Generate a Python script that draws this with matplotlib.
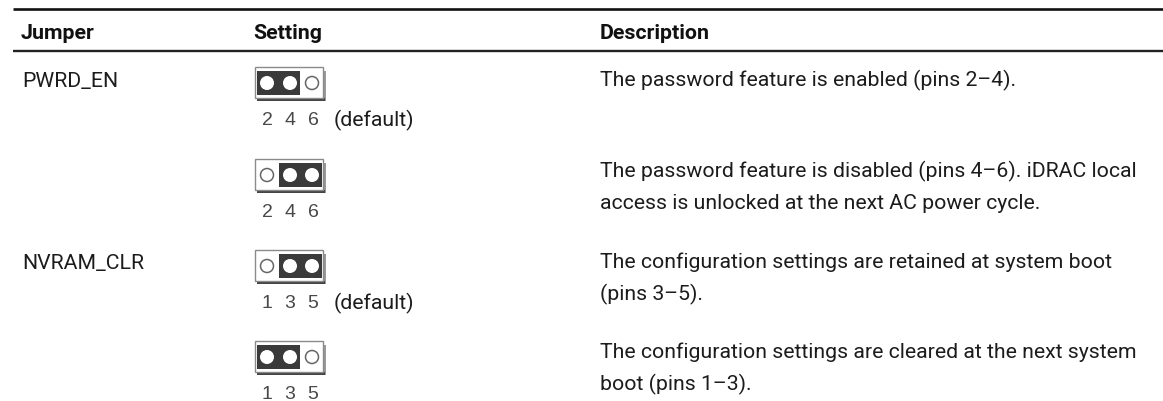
import matplotlib
matplotlib.use("Agg")
import matplotlib.pyplot as plt
from matplotlib.patches import Rectangle, Circle

## table content
headers = ["Jumper", "Setting", "Description"]
jumpers = ["PWRD_EN", "", "NVRAM_CLR", ""]
pin_labels = ["2 4 6", "2 4 6", "1 3 5", "1 3 5"]
defaults = ["(default)", "", "(default)", ""]
covered = [(0, 1), (1, 2), (1, 2), (0, 1)]  ## which pins the jumper sits on
descriptions = [
    "The password feature is enabled (pins 2\u20134).",
    "The password feature is disabled (pins 4\u20136). iDRAC local\naccess is unlocked at the next AC power cycle.",
    "The configuration settings are retained at system boot\n(pins 3\u20135).",
    "The configuration settings are cleared at the next system\nboot (pins 1\u20133).",
]

W, H = 1163, 402
box_top = [68, 160, 251, 342]
base_y = [86, 177, 268, 358]
line_gap = 32.5

fig = plt.figure(figsize=(W / 100, H / 100), dpi=100)
ax = fig.add_axes([0, 0, 1, 1])
ax.set_xlim(0, W)
ax.set_ylim(H, 0)
ax.axis("off")

font = "Roboto"
size = 15.3
ink = "#1c1c1c"
dark = "#3a3a3a"

def drawJumper(x, y, on):
    ## shadow, outline then the black cap and the three pins
    ax.add_patch(Rectangle((x + 2, y + 4), 69, 30, color="#9a9a9a", lw=0))
    ax.add_patch(Rectangle((x + 2, y + 31), 68, 3, color="#444444", lw=0))
    ax.add_patch(Rectangle((x, y), 68, 31, fc="white", ec="#8a8a8a", lw=1.0))
    cx = [x + 12, x + 35, x + 57]
    left = [x + 2, x + 24][on[0]]
    ax.add_patch(Rectangle((left, y + 4), 43, 24, color=dark, lw=0))
    for i in range(3):
        if i in on:
            ax.add_patch(Circle((cx[i], y + 16), 7, color="white", lw=0))
        else:
            ax.add_patch(Circle((cx[i], y + 16), 6.5, fc="white", ec="#666666", lw=1.1))

ax.plot([13, W], [10, 10], color="#111111", lw=1.9, solid_capstyle="butt")
ax.plot([13, W], [52, 52], color="#222222", lw=1.7, solid_capstyle="butt")

for x, t in zip([21, 253, 600], headers):
    ax.text(x, 39, t, family=font, weight="bold", fontsize=15.4, va="baseline", ha="left", color="#111111")

for i in range(4):
    if jumpers[i]:
        ax.text(22, base_y[i] + 1, jumpers[i], family=font, fontsize=size, va="baseline", color=ink)
    drawJumper(255, box_top[i], covered[i])
    for px, ch in zip([267, 290, 313], pin_labels[i].split()):
        ax.text(px, box_top[i] + 57, ch, family="Liberation Sans", fontsize=14, va="baseline", ha="center", color="#484848")
    if defaults[i]:
        ax.text(334, box_top[i] + 58, defaults[i], family=font, fontsize=size, va="baseline", color=ink)
    for n, line in enumerate(descriptions[i].split("\n")):
        ax.text(600, base_y[i] + n * line_gap, line, family=font, fontsize=size, va="baseline", color=ink)

fig.savefig("out.png", dpi=100)
